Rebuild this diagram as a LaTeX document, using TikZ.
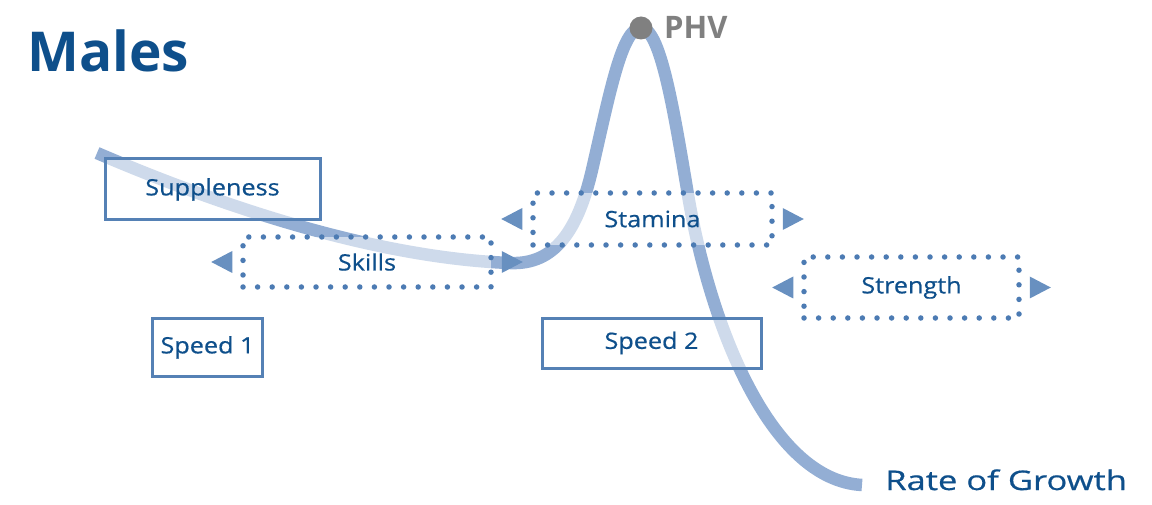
\documentclass[tikz,border=0pt]{standalone}
\usepackage{fontspec}
\setmainfont{Open Sans}
\newfontfamily\labelfont{Open Sans}[FakeStretch=1.12, FakeBold=0.6]
\newfontfamily\growthfont{Open Sans}[FakeStretch=1.28, FakeBold=0.6]
\usetikzlibrary{calc}

\definecolor{textblue}{HTML}{0E4F8B}
\definecolor{boxblue}{HTML}{5581B5}
\definecolor{dotblue}{HTML}{4C7BB3}
\definecolor{tipblue}{HTML}{6890C0}
\definecolor{curveblue}{HTML}{93AED4}
\definecolor{phvgray}{HTML}{808080}

\begin{document}
\begin{tikzpicture}[
    % GLOBAL CFG: one unit is one point, y runs downwards
    x=1pt, y=-1pt,
    % Styles
    growth/.style={% For the rate of growth curve
        line width=12.5pt,
        draw=curveblue,
        },
    quality/.style={% Common to all the boxes
        rectangle,
        inner sep=0pt,
        fill=white,
        fill opacity=0.55,
        text opacity=1,
        text=textblue,
        font=\labelfont\fontsize{22.5}{26}\selectfont,
        },
    solidbox/.style={% Framed boxes
        quality,
        draw=boxblue,
        line width=3pt,
        },
    dotbox/.style={% Dotted boxes, with tips on both sides
        quality,
        draw=dotblue,
        line width=5.5pt,
        line cap=round,
        dash pattern=on 0pt off 14.6pt,
        },
    tip/.style={% For the side triangles
        fill=tipblue,
        },
    ]
\useasboundingbox (0,0) rectangle (1152,505);

% Triangles on both sides of a dotted box
\newcommand{\SideTips}[1]{
    \fill[tip] ($(#1.west)+(-8,0)$) -- ++(0,-11) -- ++(-21,11) -- ++(21,11) -- cycle;
    \fill[tip] ($(#1.east)+(8,0)$) -- ++(0,-11) -- ++(21,11) -- ++(-21,11) -- cycle;
}

% Title
\node[anchor=base west, text=textblue, font=\bfseries\fontsize{55}{60}\selectfont, inner sep=0pt] (title) at (27,72) {Males};

% Curve end points
\coordinate (start) at (97,153);
\coordinate (peak) at (641,28);
\coordinate (finish) at (862,485);

% The rate of growth
\draw [growth] (start) .. controls (230,210) and (380,258) .. (510,263)
    .. controls (555,265) and (578,230) .. (592,170)
    .. controls (610,92) and (622,28) .. (peak)
    .. controls (660,28) and (673,105) .. (688,195)
    .. controls (710,325) and (770,480) .. (finish);
\node[anchor=base west, inner sep=0pt, text=textblue, font=\growthfont\fontsize{27}{30}\selectfont] (rog) at (885,490) {Rate of Growth};

% Peak height velocity
\fill[phvgray] (peak) circle (11.5);
\node[anchor=base west, inner sep=0pt, text=phvgray, font=\bfseries\fontsize{31}{34}\selectfont] (phv) at (664,39) {PHV};

% Qualities
\node[solidbox, minimum width=215, minimum height=61] (supp) at (212.5,189.5) {Suppleness};
\node[dotbox, minimum width=248, minimum height=50] (skills) at (367,262) {Skills};
\node[dotbox, minimum width=239, minimum height=52] (stamina) at (652.5,219) {Stamina};
\node[dotbox, minimum width=215, minimum height=61] (strength) at (911.5,287.5) {Strength};
\node[solidbox, minimum width=110, minimum height=58] (speed1) at (207.5,347.5) {Speed 1};
\node[solidbox, minimum width=219, minimum height=50] (speed2) at (651.5,343) {Speed 2};

\SideTips{skills}
\SideTips{stamina}
\SideTips{strength}

\end{tikzpicture}
\end{document}
